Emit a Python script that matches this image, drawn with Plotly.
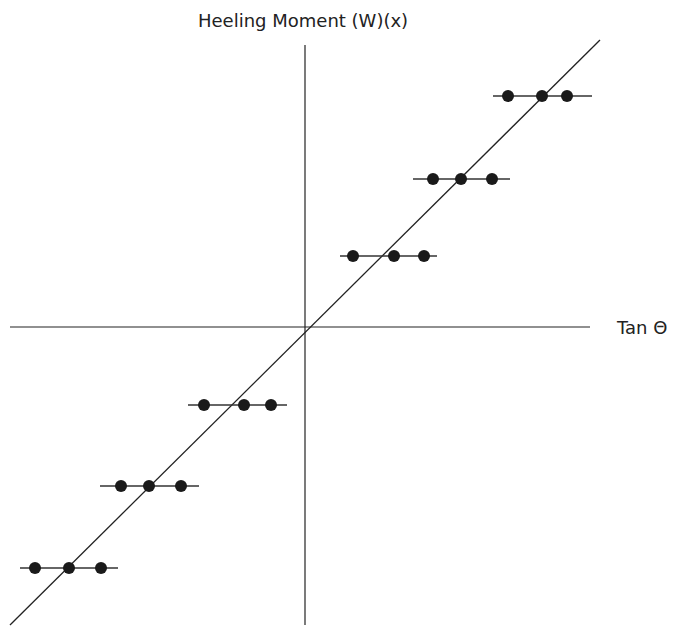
import plotly.graph_objects as go

# Data (units: Tan θ on x, heeling moment on y; origin at axes crossing)
group_y = [2.31, 1.48, 0.71, -0.78, -1.59, -2.41]
group_dots_x = [
    [2.03, 2.37, 2.62],
    [1.28, 1.56, 1.87],
    [0.48, 0.89, 1.19],
    [-1.01, -0.61, -0.34],
    [-1.84, -1.56, -1.24],
    [-2.70, -2.36, -2.04],
]
group_line_x = [
    [1.88, 2.87],
    [1.08, 2.05],
    [0.35, 1.32],
    [-1.17, -0.18],
    [-2.05, -1.06],
    [-2.85, -1.87],
]
fit_x = [-2.95, 2.95]
fit_y = [-2.98, 2.87]
x_axis_x = [-2.95, 2.85]
y_axis_y = [-2.98, 2.82]
x_label = "Tan Θ"
y_label = "Heeling Moment (W)(x)"

fig = go.Figure()
# axes
fig.add_trace(go.Scatter(x=x_axis_x, y=[0, 0], mode="lines",
                         line=dict(color="#222", width=1.2), hoverinfo="skip"))
fig.add_trace(go.Scatter(x=[0, 0], y=y_axis_y, mode="lines",
                         line=dict(color="#222", width=1.2), hoverinfo="skip"))
# fit line
fig.add_trace(go.Scatter(x=fit_x, y=fit_y, mode="lines",
                         line=dict(color="#222", width=1.3), hoverinfo="skip"))
# groups
for gy, dx, lx in zip(group_y, group_dots_x, group_line_x):
    fig.add_trace(go.Scatter(x=lx, y=[gy, gy], mode="lines",
                             line=dict(color="#333", width=1.6), hoverinfo="skip"))
    fig.add_trace(go.Scatter(x=dx, y=[gy] * len(dx), mode="markers",
                             marker=dict(color="#1a1a1a", size=12, line=dict(width=0))))

fig.add_annotation(x=-0.02, y=3.07, xref="x", yref="y", text=y_label, showarrow=False,
                   font=dict(family="DejaVu Sans", size=18, color="#222"))
fig.add_annotation(x=3.09, y=0, xref="x", yref="y", text=x_label, showarrow=False,
                   xanchor="left", font=dict(family="DejaVu Sans", size=18, color="#222"))

fig.update_layout(
    width=675, height=630,
    margin=dict(l=0, r=0, t=0, b=0),
    plot_bgcolor="white", paper_bgcolor="white",
    showlegend=False,
    xaxis=dict(range=[-2.97, 3.78], visible=False, fixedrange=True),
    yaxis=dict(range=[-3.11, 3.19], visible=False, fixedrange=True),
)

fig.write_html("out.html")
